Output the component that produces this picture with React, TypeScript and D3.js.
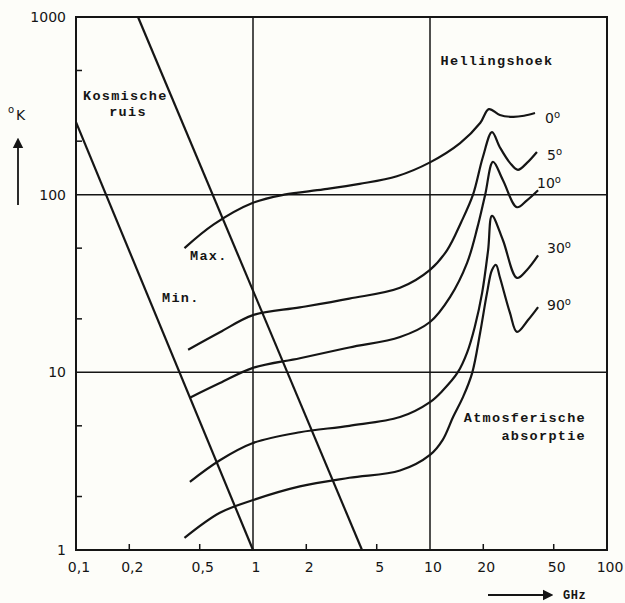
import React from "react";
import * as d3 from "d3";

const xTickValues = [0.1, 0.2, 0.5, 1, 2, 5, 10, 20, 50, 100];
const xTickLabels = ["0,1", "0,2", "0,5", "1", "2", "5", "10", "20", "50", "100"];
const yTickValues = [1, 10, 100, 1000];
const yTickLabels = ["1", "10", "100", "1000"];
const yMinorTicks = [2, 5, 20, 50, 200, 500];
const xMinorTicks = [0.2, 0.5, 2, 5, 20, 50];
const xGrid = [1, 10];
const yGrid = [10, 100];

const cosmicMax: [number, number][] = [[0.224, 1000], [4.13, 1]];
const cosmicMin: [number, number][] = [[0.1, 256], [1, 1]];

const angle0: [number, number][] = [[0.41, 50], [0.6, 68], [1.0, 90], [1.5, 100], [2.5, 107], [4, 115], [6.5, 127], [10, 152], [14.8, 195], [19.2, 253], [21.5, 303], [24.8, 281], [29.4, 274], [34, 278], [39.2, 288]];
const angle5: [number, number][] = [[0.43, 13.4], [0.65, 16.8], [1.0, 21], [1.84, 23.2], [3.5, 26], [6.77, 29.9], [10, 37.7], [12.5, 48.8], [15, 70], [17.5, 100], [19.9, 163], [22.4, 225], [24.8, 185], [28.3, 151], [31.4, 138], [35.3, 151], [40.2, 174]];
const angle10: [number, number][] = [[0.44, 7.2], [0.65, 8.7], [1.0, 10.6], [1.84, 12.0], [3.5, 13.8], [6.77, 15.8], [10, 19.2], [13, 26.6], [16.2, 41.3], [18.5, 65], [20.5, 100], [22.7, 153], [25.8, 121], [31, 85], [35.3, 93], [40.8, 106]];
const angle30: [number, number][] = [[0.44, 2.42], [0.65, 3.2], [1.0, 4.0], [1.84, 4.6], [3.5, 5.0], [6.77, 5.6], [10, 6.8], [11.8, 7.9], [14.4, 10.05], [16.2, 12.9], [17.9, 18], [19.7, 28], [21.3, 48.8], [22.4, 76], [25.8, 55.6], [31, 34], [35.3, 37.7], [40.8, 45.5]];
const angle90: [number, number][] = [[0.41, 1.17], [0.65, 1.62], [1.0, 1.91], [1.84, 2.28], [3.5, 2.55], [6.77, 2.8], [10, 3.43], [11.8, 4.17], [13.5, 5.6], [15.4, 7.3], [17.3, 9.9], [19.2, 16.7], [21.0, 28], [22.4, 37.7], [23.6, 40.2], [24.8, 34.4], [28.3, 21.6], [31, 16.9], [35.8, 19.7], [40.8, 23.3]];

const angleLabels = ["0", "5", "10", "30", "90"];

export default function App() {
  const left = 76, right = 607, top = 17, bottom = 550;
  const x = d3.scaleLog().domain([0.1, 100]).range([left, right]);
  const y = d3.scaleLog().domain([1, 1000]).range([bottom, top]);
  const line = d3
    .line<[number, number]>()
    .x((d) => x(d[0]))
    .y((d) => y(d[1]))
    .curve(d3.curveCatmullRom.alpha(0.5));
  const straight = d3
    .line<[number, number]>()
    .x((d) => x(d[0]))
    .y((d) => y(d[1]));

  const curves = [angle0, angle5, angle10, angle30, angle90];
  const labelPos = [
    [545, 123],
    [547, 160],
    [537, 188],
    [547, 253],
    [547, 310],
  ];
  const ink = "#151515";
  const mono = "'Liberation Mono', 'DejaVu Sans Mono', monospace";
  const sans = "'DejaVu Sans', 'Liberation Sans', sans-serif";

  return (
    <svg
      width={625}
      height={603}
      style={{ position: "absolute", left: 0, top: 0, background: "#fdfdf9" }}
    >
      <defs>
        <marker id="arrowUp" viewBox="0 0 10 10" refX="5" refY="5" markerWidth="6" markerHeight="8" orient="auto">
          <path d="M0,0 L10,5 L0,10 z" fill={ink} />
        </marker>
      </defs>
      <rect x={left} y={top} width={right - left} height={bottom - top} fill="none" stroke={ink} strokeWidth={2} />
      {xGrid.map((v) => (
        <line key={"xg" + v} x1={x(v)} x2={x(v)} y1={top} y2={bottom} stroke={ink} strokeWidth={1.5} />
      ))}
      {yGrid.map((v) => (
        <line key={"yg" + v} x1={left} x2={right} y1={y(v)} y2={y(v)} stroke={ink} strokeWidth={1.5} />
      ))}
      {yMinorTicks.map((v) => (
        <line key={"ym" + v} x1={left} x2={left + 6} y1={y(v)} y2={y(v)} stroke={ink} strokeWidth={1.5} />
      ))}
      {xMinorTicks.map((v) => (
        <line key={"xm" + v} x1={x(v)} x2={x(v)} y1={bottom} y2={bottom - 6} stroke={ink} strokeWidth={1.5} />
      ))}
      {yTickValues.map((v, i) => (
        <text key={"yl" + v} x={66} y={y(v) + 5} textAnchor="end" fontFamily={sans} fontSize={14} fill={ink}>
          {yTickLabels[i]}
        </text>
      ))}
      {xTickValues.map((v, i) => (
        <text key={"xl" + v} x={x(v) + 3} y={572} textAnchor="middle" fontFamily={sans} fontSize={14} fill={ink}>
          {xTickLabels[i]}
        </text>
      ))}
      <path d={straight(cosmicMax) || ""} fill="none" stroke={ink} strokeWidth={2.2} />
      <path d={straight(cosmicMin) || ""} fill="none" stroke={ink} strokeWidth={2.2} />
      {curves.map((c, i) => (
        <path key={"c" + i} d={line(c) || ""} fill="none" stroke={ink} strokeWidth={2.2} strokeLinejoin="round" />
      ))}
      {angleLabels.map((a, i) => (
        <text key={"al" + i} x={labelPos[i][0]} y={labelPos[i][1]} fontFamily={sans} fontSize={14} fill={ink}>
          {a}
          <tspan dy={-5} fontSize={10}>o</tspan>
        </text>
      ))}
      <g fontFamily={mono} fontWeight="bold" fontSize={13.5} letterSpacing={1.3} fill={ink}>
        <text x={83} y={100}>Kosmische</text>
        <text x={128} y={116} textAnchor="middle">ruis</text>
        <text x={190} y={260}>Max.</text>
        <text x={162} y={302}>Min.</text>
        <text x={497} y={65} textAnchor="middle">Hellingshoek</text>
        <text x={586} y={422} textAnchor="end">Atmosferische</text>
        <text x={586} y={440} textAnchor="end">absorptie</text>
        <text x={563} y={599} fontSize={12} letterSpacing={0.5}>GHz</text>
      </g>
      <text x={8} y={113} fontFamily={sans} fontSize={10} fill={ink}>o</text>
      <text x={16} y={120} fontFamily={sans} fontSize={14} fill={ink}>K</text>
      <line x1={18} y1={205} x2={18} y2={143} stroke={ink} strokeWidth={1.8} markerEnd="url(#arrowUp)" />
      <line x1={488} y1={595} x2={548} y2={595} stroke={ink} strokeWidth={1.8} markerEnd="url(#arrowUp)" />
    </svg>
  );
}
